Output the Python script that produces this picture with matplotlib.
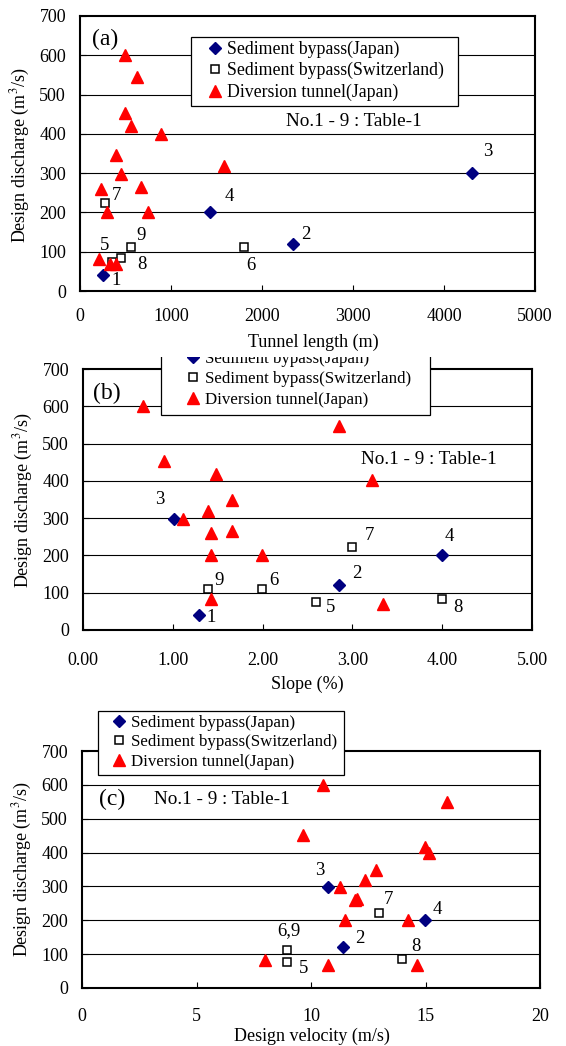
import matplotlib
matplotlib.use("Agg")
import matplotlib.pyplot as plt
from matplotlib.patches import Rectangle

plt.rcParams['font.family'] = ['Liberation Serif', 'DejaVu Serif']
plt.rcParams['mathtext.fontset'] = 'stix'

W, H = 566, 1046

# ---------------- data ----------------
# Panel (a): Tunnel length (m) vs design discharge (m3/s)
a_jp_x = [257, 2346, 4310, 1430]
a_jp_y = [42, 120, 300, 200]
a_jp_lab = ['1', '2', '3', '4']
a_sw_x = [350, 1800, 270, 450, 565]
a_sw_y = [75, 112, 224, 85, 112]
a_sw_lab = ['5', '6', '7', '8', '9']
a_dt_x = [499, 624, 499, 557, 889, 401, 1582, 452, 230, 674, 292, 744, 207, 331, 401]
a_dt_y = [600, 546, 453, 420, 400, 347, 318, 298, 260, 265, 200, 200, 82, 70, 70]

# Panel (b): Slope (%) vs design discharge
b_jp_x = [1.29, 2.85, 1.01, 4.00]
b_jp_y = [39, 120, 298, 200]
b_jp_lab = ['1', '2', '3', '4']
b_sw_x = [2.60, 1.99, 3.00, 4.00, 1.39]
b_sw_y = [76, 111, 223, 84, 111]
b_sw_lab = ['5', '6', '7', '8', '9']
b_dt_x = [0.67, 2.85, 0.90, 1.48, 3.22, 1.66, 1.39, 1.11, 1.42, 1.66, 1.42, 1.99, 1.42, 3.34]
b_dt_y = [600, 548, 453, 418, 401, 349, 319, 298, 260, 265, 200, 200, 82, 69]

# Panel (c): Design velocity (m/s) vs design discharge
c_jp_x = [11.38, 10.75, 14.98]
c_jp_y = [121, 299, 200]
c_jp_lab = ['2', '3', '4']
c_sw_x = [8.97, 8.97, 12.97, 13.96]
c_sw_y = [76, 111, 222, 85]
c_sw_lab = ['5', '6,9', '7', '8']
c_dt_x = [10.51, 15.96, 9.65, 14.96, 15.15, 12.86, 12.34, 11.28, 11.94, 12.0, 11.49, 14.24, 8.01, 10.76, 14.63]
c_dt_y = [599, 548, 453, 417, 400, 348, 319, 297, 260, 264, 200, 200, 82, 69, 69]

y_ticks = [0, 100, 200, 300, 400, 500, 600, 700]
ylabel_text = 'Design discharge (m$^3$/s)'
leg_labels = ['Sediment bypass(Japan)', 'Sediment bypass(Switzerland)', 'Diversion tunnel(Japan)']
note_text = 'No.1 - 9 : Table-1'

# label offsets in pixels (dx, dy with y up)
a_off = {'1': (13, -6), '2': (12, 9), '3': (16, 22), '4': (19, 16),
         '5': (-7, 16), '6': (7, -18), '7': (12, 7), '8': (21, -7), '9': (10, 12)}
b_off = {'1': (12, -2), '2': (18, 12), '3': (-14, 19), '4': (7, 19),
         '5': (14, -6), '6': (12, 8), '7': (17, 11), '8': (16, -9), '9': (11, 8)}
c_off = {'2': (17, 9), '3': (-8, 16), '4': (12, 11), '5': (16, -6),
         '6,9': (1, 20), '7': (9, 13), '8': (14, 13)}

FS_TICK = 13
FS_LAB = 13


def fx(px):
    return px / W


def fy(py):
    return 1 - py / H


def make_axes(left, right, top, bottom):
    return fig.add_axes([left / W, 1 - bottom / H, (right - left) / W, (bottom - top) / H])


def style(ax, xlim, xticks, xfmt, xpad, ylabel_xy, xlabel, xlabel_xy):
    ax.set_xlim(*xlim)
    ax.set_ylim(0, 700)
    ax.set_yticks(y_ticks)
    ax.set_xticks(xticks)
    ax.set_xticklabels([xfmt(t) for t in xticks])
    ax.tick_params(axis='x', direction='in', length=4, width=0.8, pad=xpad, labelsize=FS_TICK)
    ax.tick_params(axis='y', direction='in', length=4, width=0.8, pad=10, labelsize=FS_TICK)
    for s in ax.spines.values():
        s.set_linewidth(1.5)
        s.set_color('black')
    for yv in y_ticks[1:-1]:
        ax.axhline(yv, color='black', lw=0.8, zorder=1)
    ax.set_ylabel(ylabel_text, fontsize=FS_LAB)
    ax.yaxis.set_label_coords(fx(ylabel_xy[0]), fy(ylabel_xy[1]), transform=fig.transFigure)
    ax.set_xlabel(xlabel, fontsize=FS_LAB)
    ax.xaxis.set_label_coords(fx(xlabel_xy[0]), fy(xlabel_xy[1]), transform=fig.transFigure)


def plot_series(ax, jx, jy, jl, sx, sy, sl, dx, dy, offs):
    h1, = ax.plot(jx, jy, linestyle='none', marker='D', ms=6.5, color='#000080', mec='#000080', zorder=3)
    h2, = ax.plot(sx, sy, linestyle='none', marker='s', ms=6, mfc='white', mec='black', mew=1.1, zorder=3)
    h3, = ax.plot(dx, dy, linestyle='none', marker='^', ms=8.5, color='#ff0000', mec='#ff0000', zorder=4)
    for x, y, l in list(zip(jx, jy, jl)) + list(zip(sx, sy, sl)):
        if l in offs:
            ax.annotate(l, (x, y), xytext=offs[l], textcoords='offset pixels',
                        ha='center', va='center', fontsize=13.5, zorder=5)
    return [h1, h2, h3]


def add_legend(ax, handles, box, handle_x, row1_y, spacing, fs):
    # box: (left, top, right, bottom) in pixels
    l, t, r, b = box
    rect = Rectangle((fx(l), fy(b)), (r - l) / W, (b - t) / H, transform=fig.transFigure,
                     facecolor='white', edgecolor='black', lw=0.9, zorder=5.5, clip_on=False)
    ax.add_patch(rect)
    fs_px = fs * 100 / 72
    hl = 0.8
    row_h = fs_px * 0.93
    ls = max(spacing - row_h, 0) / fs_px
    leg = ax.legend(handles, leg_labels, loc='upper left',
                    bbox_to_anchor=(fx(handle_x - hl * fs_px / 2), fy(row1_y - row_h / 2)),
                    bbox_transform=fig.transFigure, borderaxespad=0, borderpad=0, fontsize=fs,
                    frameon=False, handlelength=hl, handletextpad=0.3, labelspacing=ls)
    leg.set_zorder(6)
    return leg


fig = plt.figure(figsize=(W / 100, H / 100), dpi=100)

# ---------------- (a) ----------------
ax_a = make_axes(80, 535, 16, 291)
ax_a.set_zorder(3)
h = plot_series(ax_a, a_jp_x, a_jp_y, a_jp_lab, a_sw_x, a_sw_y, a_sw_lab, a_dt_x, a_dt_y, a_off)
style(ax_a, (0, 5000), [0, 1000, 2000, 3000, 4000, 5000], lambda t: f'{t:d}', 12,
      (32, 155), 'Tunnel length (m)', (313, 334))
add_legend(ax_a, h, (191, 37, 458, 106), 215, 49, 20.5, 12.75)
ax_a.text(fx(92), fy(39), '(a)', transform=fig.transFigure, fontsize=17,
          ha='left', va='center', zorder=6)
ax_a.text(fx(354), fy(122), note_text, transform=fig.transFigure, fontsize=13.8,
          ha='center', va='center', zorder=6)

# ---------------- (b) ----------------
ax_b = make_axes(83, 532, 369, 630)
ax_b.set_zorder(1)
h = plot_series(ax_b, b_jp_x, b_jp_y, b_jp_lab, b_sw_x, b_sw_y, b_sw_lab, b_dt_x, b_dt_y, b_off)
style(ax_b, (0, 5), [0, 1, 2, 3, 4, 5], lambda t: f'{t:.2f}', 16,
      (35, 500), 'Slope (%)', (307, 676))
add_legend(ax_b, h, (161, 345, 430, 415), 193, 359, 20, 12.2)
ax_b.text(fx(93), fy(393), '(b)', transform=fig.transFigure, fontsize=17,
          ha='left', va='center', zorder=6)
ax_b.text(fx(429), fy(459), note_text, transform=fig.transFigure, fontsize=13.8,
          ha='center', va='center', zorder=6)

# white band hiding the top of legend (b), as in the source
cover = Rectangle((fx(150), fy(357)), 300 / W, 25 / H, transform=fig.transFigure,
                  facecolor='white', edgecolor='none', zorder=2)
fig.patches.append(cover)

# ---------------- (c) ----------------
ax_c = make_axes(82, 540, 751, 988)
ax_c.set_zorder(3)
h = plot_series(ax_c, c_jp_x, c_jp_y, c_jp_lab, c_sw_x, c_sw_y, c_sw_lab, c_dt_x, c_dt_y, c_off)
style(ax_c, (0, 20), [0, 5, 10, 15, 20], lambda t: f'{t:d}', 14.5,
      (34, 869), 'Design velocity (m/s)', (312, 1028))
add_legend(ax_c, h, (97.5, 711, 344, 775), 119, 723, 19, 12.2)
ax_c.text(fx(99), fy(799), '(c)', transform=fig.transFigure, fontsize=17,
          ha='left', va='center', zorder=6)
ax_c.text(fx(222), fy(800), note_text, transform=fig.transFigure, fontsize=13.8,
          ha='center', va='center', zorder=6)

fig.savefig('out.png', dpi=100)
